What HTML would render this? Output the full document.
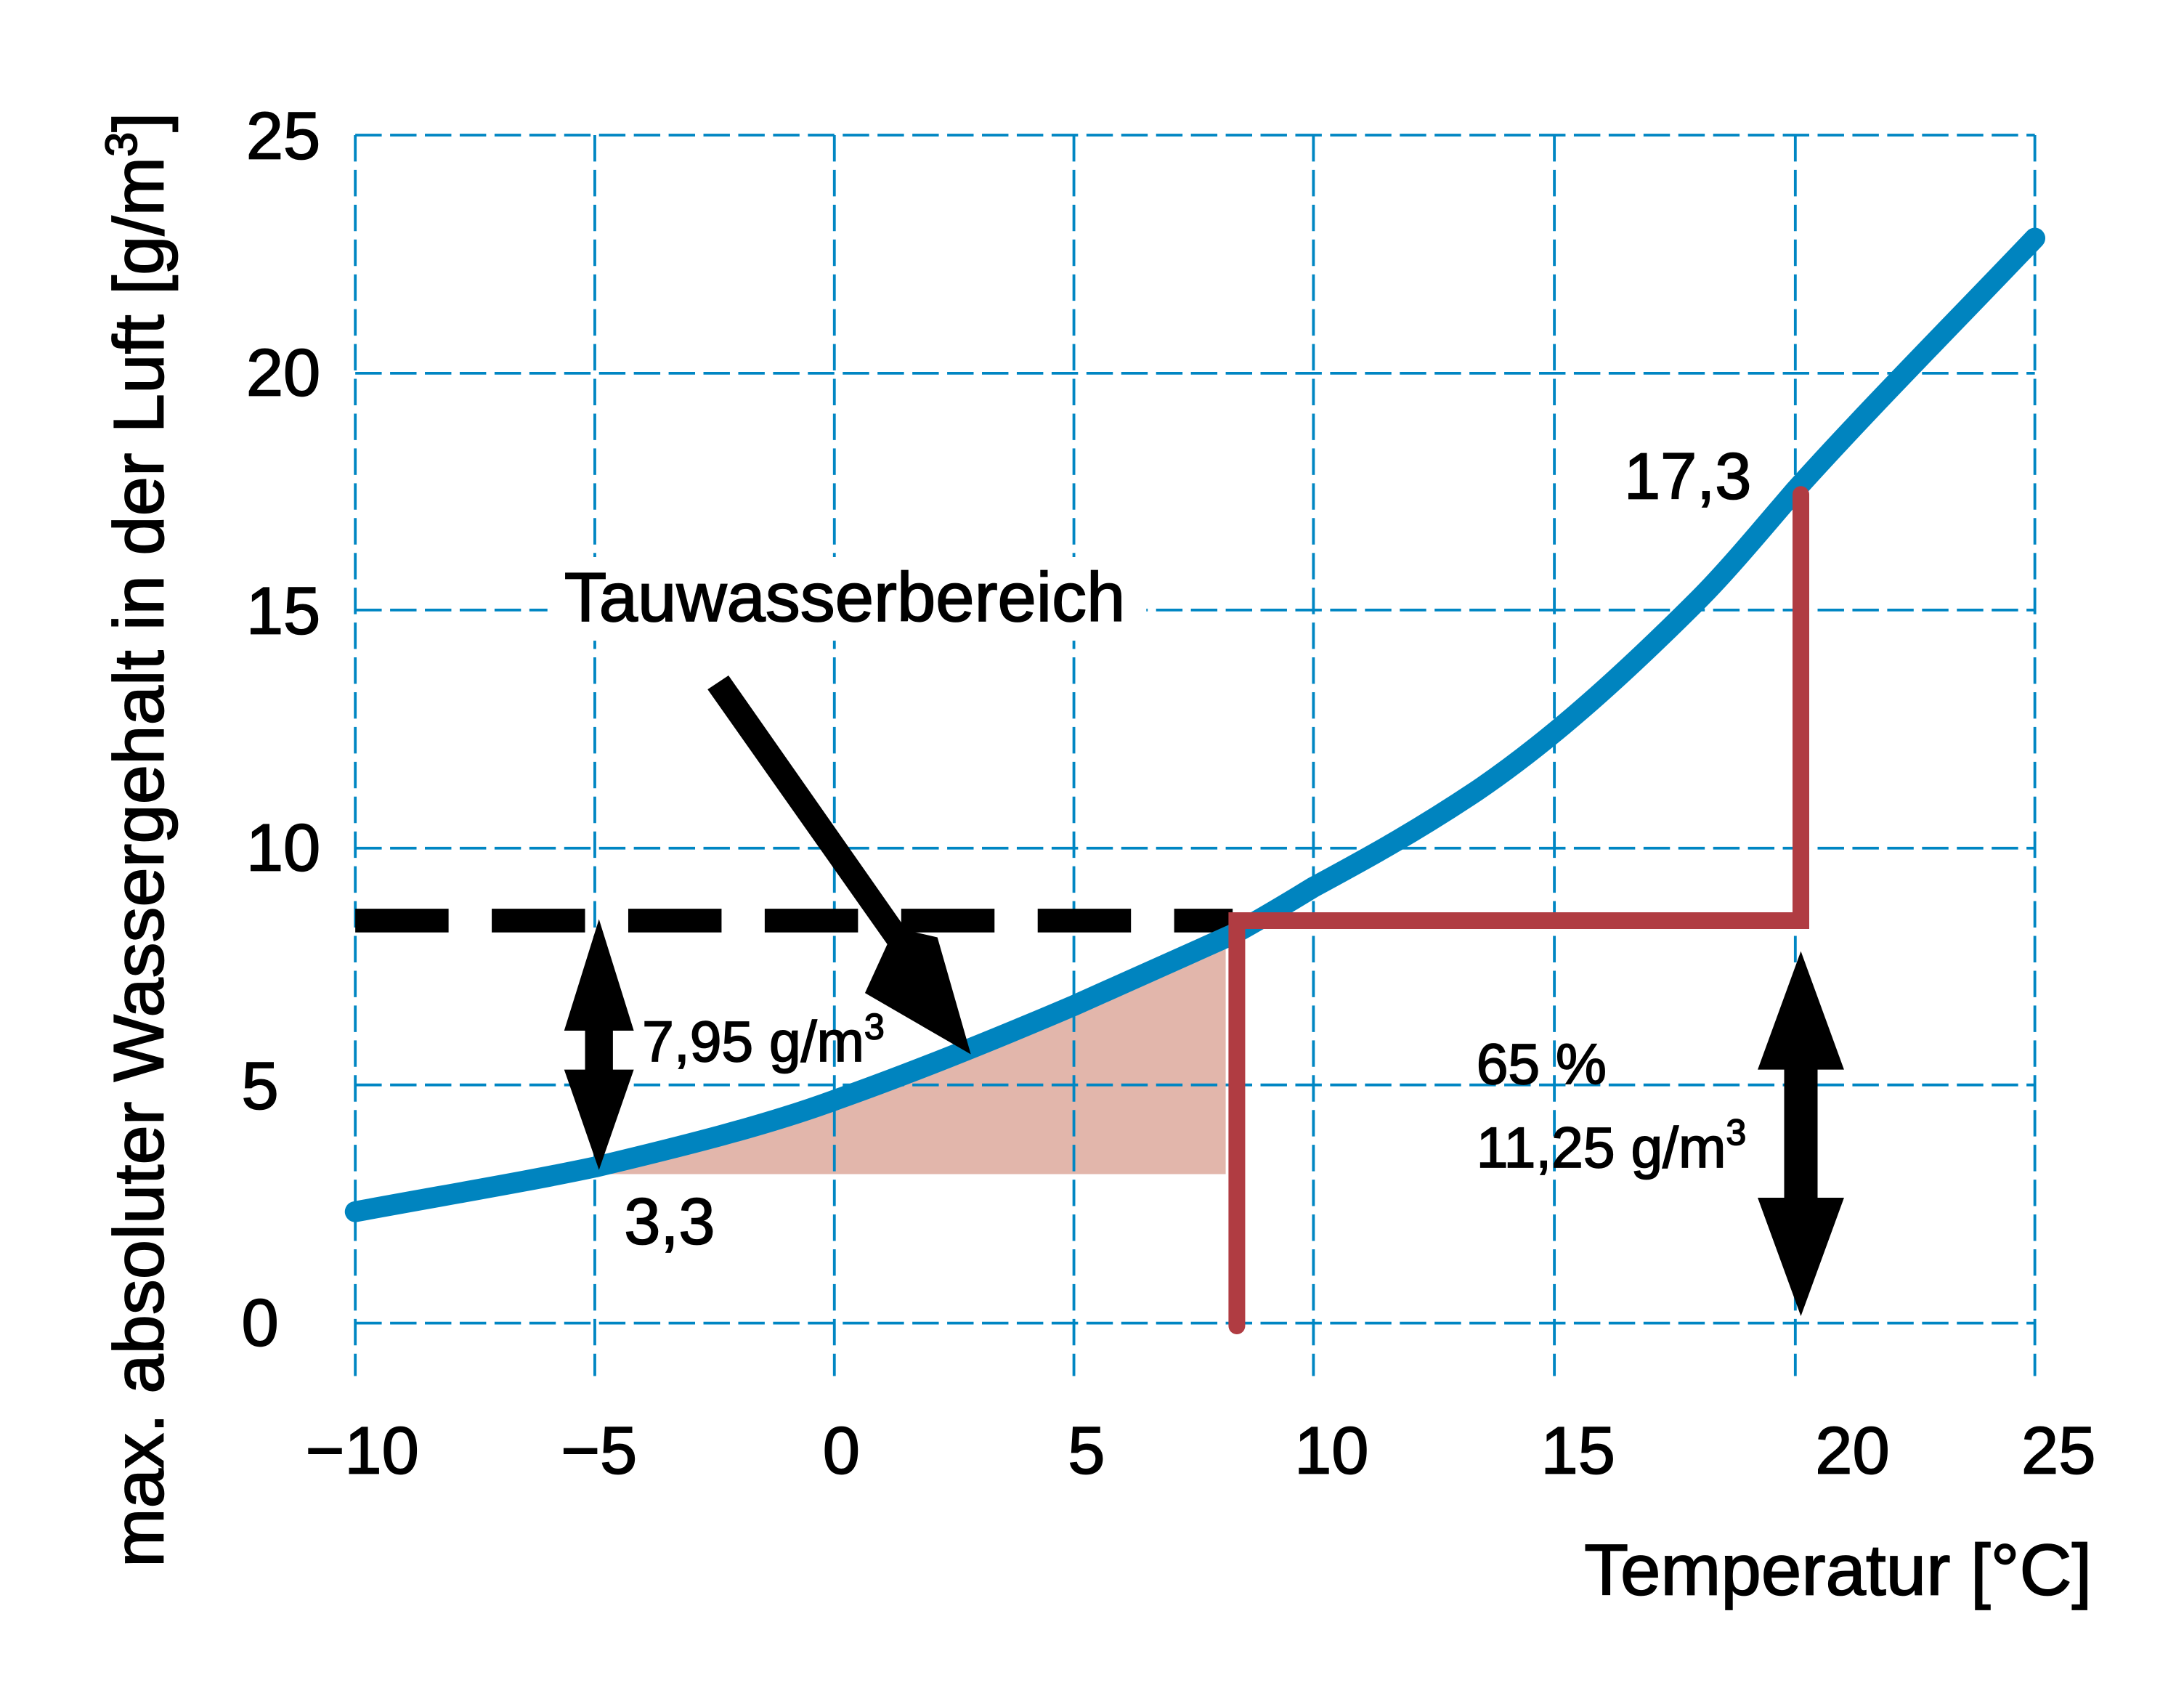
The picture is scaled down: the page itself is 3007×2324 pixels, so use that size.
<!DOCTYPE html>
<html><head><meta charset="utf-8"><style>
html,body{margin:0;padding:0;background:#fff;}
svg{display:block;}
text{font-family:"Liberation Sans Narrow","Liberation Sans",sans-serif;fill:#000;stroke:#000;stroke-width:0.9;}
</style></head><body>
<svg width="3007" height="2324" viewBox="0 0 1568 1212" xmlns="http://www.w3.org/2000/svg">
<rect width="1568" height="1212" fill="#fff"/>
<polygon points="427,843 880,843 880,673 771,722 685,760 599,790 427,838" fill="#e2b6ab"/>
<g stroke="#0086c3" stroke-width="2" stroke-dasharray="19,6" fill="none">
<line x1="255" y1="97" x2="1461" y2="97"/>
<line x1="255" y1="268" x2="1461" y2="268"/>
<line x1="255" y1="438" x2="1461" y2="438"/>
<line x1="255" y1="609" x2="1461" y2="609"/>
<line x1="255" y1="779" x2="1461" y2="779"/>
<line x1="255" y1="950" x2="1461" y2="950"/>
<line x1="255" y1="97" x2="255" y2="988"/>
<line x1="427" y1="97" x2="427" y2="988"/>
<line x1="599" y1="97" x2="599" y2="988"/>
<line x1="771" y1="97" x2="771" y2="988"/>
<line x1="943" y1="97" x2="943" y2="988"/>
<line x1="1116" y1="97" x2="1116" y2="988"/>
<line x1="1289" y1="97" x2="1289" y2="988"/>
<line x1="1461" y1="97" x2="1461" y2="988"/>
</g>
<rect x="393" y="400" width="430" height="60" fill="#fff"/>
<line x1="255" y1="661" x2="885" y2="661" stroke="#000" stroke-width="17" stroke-dasharray="67,31"/>
<path d="M255,870 C320,858 380,848 427,838 C490,823 550,808 599,790 C650,772 710,748 771,722 C820,700 860,682 885,671 C905,660 925,648 943,637 C980,617 1015,598 1060,568 C1110,534 1160,490 1220,430 C1240,410 1265,380 1289,352 C1345,290 1400,235 1461,171" fill="none" stroke="#0084bf" stroke-width="15" stroke-linecap="round"/>
<polyline points="888,952 888,661 1293,661 1293,355" fill="none" stroke="#b03c42" stroke-width="12" stroke-linecap="round"/>
<polygon points="430,660 455,740 440,740 440,768 455,768 430,840 405,768 420,768 420,740 405,740" fill="#000"/>
<polygon points="1293,683 1324,768 1305,768 1305,860 1324,860 1293,945 1262,860 1281,860 1281,768 1262,768" fill="#000"/>
<polygon points="508,495 523,485 651,668 673,673 697,757 621,713 637,678" fill="#000"/>
<text x="405" y="446" font-size="50">Tauwasserbereich</text>
<text x="461" y="762" font-size="41">7,95 g/m<tspan font-size="26" dy="-16">3</tspan></text>
<text x="448" y="893" font-size="47">3,3</text>
<text x="1166" y="358" font-size="47">17,3</text>
<text x="1060" y="778" font-size="41">65 %</text>
<text x="1060" y="838" font-size="41">11,25 g/m<tspan font-size="26" dy="-16">3</tspan></text>
<g font-size="48" text-anchor="end">
<text x="230" y="114">25</text>
<text x="230" y="284">20</text>
<text x="230" y="455">15</text>
<text x="230" y="625">10</text>
<text x="200" y="796">5</text>
<text x="200" y="966">0</text>
</g>
<g font-size="48" text-anchor="middle">
<text x="260" y="1058">−10</text>
<text x="430" y="1058">−5</text>
<text x="604" y="1058">0</text>
<text x="780" y="1058">5</text>
<text x="956" y="1058">10</text>
<text x="1133" y="1058">15</text>
<text x="1330" y="1058">20</text>
<text x="1478" y="1058">25</text>
</g>
<text x="1502" y="1145" font-size="52" text-anchor="end">Temperatur [°C]</text>
<text transform="translate(117,603) rotate(-90)" font-size="51" text-anchor="middle">max. absoluter Wassergehalt in der Luft [g/m<tspan font-size="32" dy="-19">3</tspan><tspan dy="19">]</tspan></text>
</svg>
</body></html>
